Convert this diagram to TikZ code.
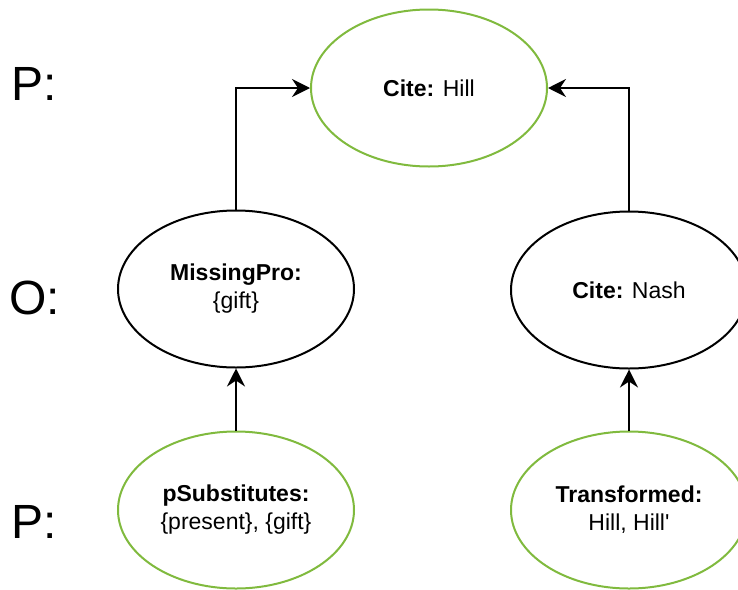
\documentclass[tikz,border=0pt]{standalone}
\usepackage{fontspec}
\setmainfont{Liberation Sans}
\newfontfamily\plainquote{Liberation Sans}
\usetikzlibrary{shapes.geometric,arrows.meta}
\definecolor{pgreen}{RGB}{128,186,62}
\tikzset{
  x=1pt, y=-1pt,
  ell/.style={ellipse, draw, line width=2pt, minimum width=236pt, minimum height=157pt, inner sep=0pt, align=center, font=\fontsize{23}{28}\selectfont, fill=white},
  propell/.style={ell, draw=pgreen},
  oppell/.style={ell, draw=black},
  lvl/.style={anchor=base west, inner sep=0pt, font=\fontsize{48}{54}\selectfont},
  arr/.style={line width=2pt, -{Stealth[length=18pt,width=18pt,inset=6pt]}}
}
\begin{document}
\begin{tikzpicture}
\useasboundingbox (0,0) rectangle (738,589);
\clip (0,0) rectangle (738,589);
\node[propell] (hill) at (429,88) {\textbf{Cite:} Hill};
\node[oppell] (mp) at (236,289) {\textbf{MissingPro:}\\\{gift\}};
\node[oppell] (nash) at (629,290) {\textbf{Cite:} Nash};
\node[propell] (ps) at (236,510) {\textbf{pSubstitutes:}\\\{present\}, \{gift\}};
\node[propell] (tr) at (629,510) {\textbf{Transformed:}\\Hill, Hill{\plainquote '}};
\node[lvl] (l1) at (11,100) {P:};
\node[lvl] (l2) at (9,314) {O:};
\node[lvl] (l3) at (11,538) {P:};
\draw[arr] (mp.north) |- (hill.west);
\draw[arr] (nash.north) |- (hill.east);
\draw[arr] (ps.north) -- (mp.south);
\draw[arr] (tr.north) -- (nash.south);
\end{tikzpicture}
\end{document}
